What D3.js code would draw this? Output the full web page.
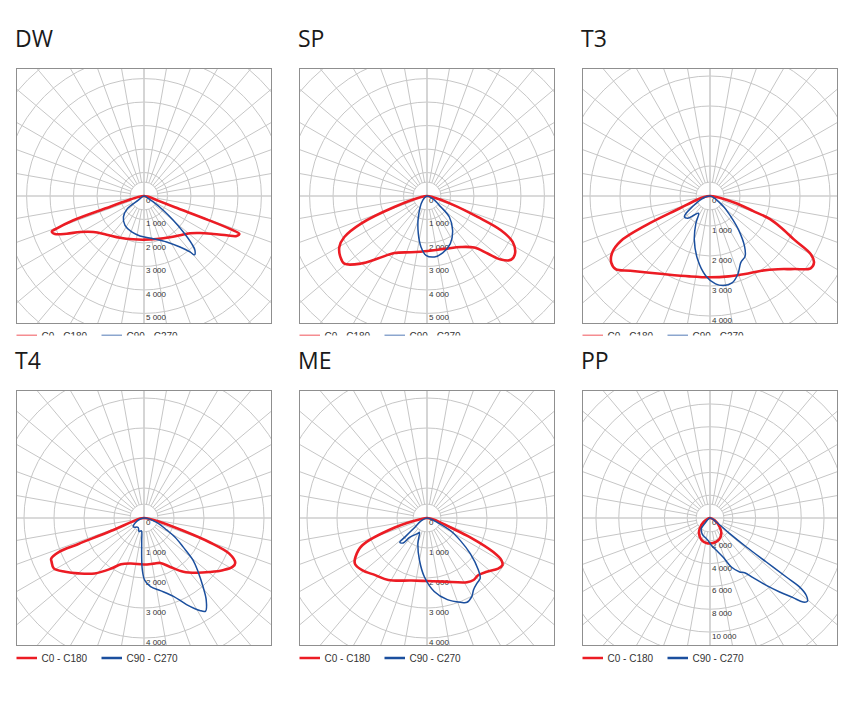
<!DOCTYPE html>
<html><head><meta charset="utf-8">
<script src="https://cdn.jsdelivr.net/npm/d3@7"></script>
<style>body{margin:0;background:#fff}svg{display:block}</style>
</head><body><svg id="c" width="862" height="722"></svg>
<script>
// ---------- data ----------
const titles = ["DW", "SP", "T3", "T4", "ME", "PP"];
const seriesNames = ["C0 - C180", "C90 - C270"];
const radialMax = [5430, 5430, 4250, 4250, 4250, 11180]; // cd at frame half-width
const tickStep = [1000, 1000, 1000, 1000, 1000, 2000];
const tickCount = [6, 6, 5, 5, 5, 6];

// [angle from nadir (deg, + = right), intensity cd], in path order
const dwC0C180 = [[0,0],[-80,250],[-75,700],[-72.2,1670],[-71,3180],[-69.5,4000],[-68.9,4210],[-66.9,4120],[-64,3660],[-60.6,3125],[-54.6,2645],[-44,2290],[-29.9,2050],[-13.8,1900],[0,1860],[16.4,1910],[32.2,2080],[42.5,2270],[50.9,2520],[56.5,2860],[61.3,3365],[64.6,3895],[66.6,4295],[68.3,4370],[69,4000],[69.5,2900],[70,1400],[72,600],[80,150]];
const dwC90C270 = [[0,0],[-54,300],[-52.8,890],[-44.5,1250],[-32.9,1490],[-18.9,1620],[-5.7,1710],[12.3,1860],[26.2,2180],[35.2,2660],[39.4,3080],[40.6,3300],[43.2,3170],[45,2870],[47.5,2270],[50.3,1620],[53.4,1020],[57.3,470],[62,150]];

const spC0C180 = [[0,0],[-80,250],[-71.4,1470],[-67.3,3045],[-63.6,3930],[-59.8,4320],[-54.9,4510],[-50.7,4550],[-44.3,4020],[-38.2,3390],[-29.8,2800],[-15.9,2490],[0.7,2340],[18.1,2370],[33.7,2610],[42.5,2980],[46.5,3560],[49.3,4150],[52.8,4490],[56.8,4480],[61.8,4140],[65.1,3470],[67.5,2330],[71.1,1230],[80,200]];
const spC90C270 = [[0,0],[-45,260],[-22.4,970],[-13,1645],[-6.7,2185],[-1,2525],[6.9,2615],[15.4,2515],[26.1,2260],[36.8,1820],[46.8,1305],[51.8,760],[64.8,270]];

const t3C0C180 = [[0,0],[-80,200],[-73,490],[-67.8,1100],[-65.5,2320],[-63.2,3340],[-59.9,3770],[-56,3970],[-52.2,3980],[-46.8,3640],[-31,3035],[-14.4,2765],[0,2710],[13.1,2750],[24.2,2850],[34.6,3025],[42.9,3330],[49.1,3720],[54.3,4130],[57.4,4115],[60,3880],[62.6,3160],[66,2600],[69,2130],[70.8,1530],[74.3,930],[79.4,356],[85,100]];
const t3C90C270 = [[0,0],[-70,300],[-51.1,1096],[-45,1050],[-39.6,820],[-33.4,690],[-27.4,1020],[-19.8,1545],[-11.1,2150],[-3.1,2660],[3.6,2935],[8.7,3020],[14.2,2990],[19.7,2760],[24.8,2445],[30.3,2320],[34.5,2030],[40.2,1470],[44.6,1043],[47.1,850],[51.8,584],[56.3,354],[65,150]];

const t4C0C180 = [[0,0],[-80,150],[-68.7,1170],[-68.4,2350],[-68.2,3060],[-66.3,3380],[-64.6,3410],[-60.8,3445],[-55.7,3180],[-49.8,2860],[-41.6,2470],[-33,2010],[-26.4,1720],[-16.1,1580],[0,1550],[12.2,1555],[20,1595],[28.2,1850],[36.2,2220],[43.8,2530],[50.5,2830],[56.5,3150],[61.1,3370],[63.8,3390],[67.3,3080],[69.7,2330],[72,1380],[77.3,450]];
const t4C90C270 = [[0,0],[-60.3,350],[-49.8,460],[-31.8,370],[-20.1,480],[-11.6,435],[-5.8,760],[-3.4,1300],[-1.8,1740],[0.6,2070],[5.5,2295],[12.7,2480],[20.6,2790],[26.2,3215],[31.1,3600],[33.5,3720],[37.3,3420],[40.7,3015],[45.2,2540],[49.3,2160],[53.4,1630],[58.2,1220],[62.1,865],[70.7,460]];

const meC0C180 = [[0,0],[-80,200],[-73.5,1120],[-67,2350],[-61.4,2715],[-57.7,2845],[-51.2,2775],[-42.2,2570],[-32,2435],[-14.1,2150],[0.6,2100],[15,2195],[31.9,2525],[36.9,2585],[42.1,2560],[48,2680],[54.6,2910],[58.1,2965],[60.4,2855],[62.8,2485],[65.9,1580],[68.1,850],[77.2,250]];
const meC90C270 = [[0,0],[-63.4,220],[-52.7,520],[-49.1,985],[-48.3,1215],[-43.8,1150],[-41.9,870],[-30.8,600],[-27.6,545],[-19.5,915],[-10.1,1430],[-2.6,1960],[5.6,2460],[14,2805],[21.6,3020],[25.4,3110],[29.8,3010],[33,2850],[37.4,2740],[41.4,2680],[44.6,2440],[50.5,1870],[55.9,1345],[61.6,895],[66.4,380]];

const ppC0C180 = [[0,0],[-57.7,660],[-44.1,1300],[-35.1,1680],[-21.8,2050],[-8.3,2215],[6.8,2210],[22.6,2060],[35.9,1700],[47.1,1160],[63.4,460]];
const ppC90C270 = [[0,0],[-43.3,680],[-39.1,1210],[-25.1,1580],[-15.7,1730],[-5.1,1970],[2.8,2400],[11.1,2890],[18.4,3610],[23.5,4690],[28.8,5400],[32.4,5680],[35.8,6450],[39.9,7700],[43.3,8910],[46.2,10090],[47.9,10990],[49.4,11240],[51.2,10840],[52.4,9930],[52.3,8460],[52,6270],[51.4,4080],[51.5,2210],[57.7,660]];

const redSeries = [dwC0C180, spC0C180, t3C0C180, t4C0C180, meC0C180, ppC0C180];
const blueSeries = [dwC90C270, spC90C270, t3C90C270, t4C90C270, meC90C270, ppC90C270];

// ---------- drawing ----------
const RED = "#ec1c24", BLUE = "#1b4f9e";
const SIZE = 255, colX = [16.5, 299.5, 582.5], rowY = [68.5, 390.5];
const INNER = 14;
const fmt = d3.formatLocale({decimal: ",", thousands: "\u00a0", grouping: [3], currency: ["", ""]}).format(",d");
const svg = d3.select("#c");
const defs = svg.append("defs");

titles.forEach((title, i) => {
  const col = i % 3, row = Math.floor(i / 3);
  const x0 = colX[col], y0 = rowY[row];
  const cx = x0 + SIZE / 2, cy = y0 + SIZE / 2;
  const r = d3.scaleLinear().domain([0, radialMax[i]]).range([0, SIZE / 2]);

  const g = svg.append("g");
  g.append("text").attr("x", x0 - 1.5).attr("y", y0 - 22)
    .attr("font-family", "'Open Sans', sans-serif").attr("font-size", 23)
    .attr("fill", "#1a1a1a").text(title);

  defs.append("clipPath").attr("id", "clip" + i).append("rect")
    .attr("x", x0).attr("y", y0).attr("width", SIZE).attr("height", SIZE);
  const plot = g.append("g").attr("clip-path", `url(#clip${i})`);
  const pg = plot.append("g").attr("transform", `translate(${cx},${cy})`);

  const gridColor = "#c6c6c6";
  // spokes
  const angles = d3.range(0, 360, 10).filter(a => a % 90 !== 0);
  pg.selectAll("line.spoke").data(angles).join("line")
    .attr("x1", a => INNER * Math.sin(a * Math.PI / 180))
    .attr("y1", a => INNER * Math.cos(a * Math.PI / 180))
    .attr("x2", a => 200 * Math.sin(a * Math.PI / 180))
    .attr("y2", a => 200 * Math.cos(a * Math.PI / 180))
    .attr("stroke", gridColor).attr("stroke-width", 1);
  // circles
  const ringVals = d3.range(tickStep[i], radialMax[i] * 1.45, tickStep[i]);
  pg.selectAll("circle.ring").data(ringVals).join("circle")
    .attr("r", v => r(v)).attr("fill", "none").attr("stroke", gridColor).attr("stroke-width", 1);
  pg.append("circle").attr("r", INNER).attr("fill", "none").attr("stroke", gridColor).attr("stroke-width", 1);
  // main axes
  pg.append("line").attr("x1", -200).attr("x2", 200).attr("y1", 0).attr("y2", 0)
    .attr("stroke", "#cecece").attr("stroke-width", 1.7);
  pg.append("line").attr("y1", -200).attr("y2", 200).attr("x1", 0).attr("x2", 0)
    .attr("stroke", "#cecece").attr("stroke-width", 1.7);

  // tick labels
  const ticks = d3.range(tickCount[i]).map(k => k * tickStep[i]);
  pg.selectAll("text.tick").data(ticks).join("text")
    .attr("x", 2).attr("y", v => r(v) + 7)
    .attr("font-family", "'Liberation Sans', Arial, sans-serif").attr("font-size", 8)
    .attr("fill", "#333").text(v => fmt(v));

  // curves
  const line = d3.lineRadial()
    .angle(d => Math.PI - d[0] * Math.PI / 180)
    .radius(d => r(d[1]))
    .curve(d3.curveCatmullRomClosed.alpha(0.5));
  pg.append("path").attr("d", line(redSeries[i])).attr("fill", "none")
    .attr("stroke", RED).attr("stroke-width", 2.6).attr("stroke-linejoin", "round");
  pg.append("path").attr("d", line(blueSeries[i])).attr("fill", "none")
    .attr("stroke", BLUE).attr("stroke-width", 1.5).attr("stroke-linejoin", "round");

  // frame
  g.append("rect").attr("x", x0).attr("y", y0).attr("width", SIZE).attr("height", SIZE)
    .attr("fill", "none").attr("stroke", "#8f8f8f").attr("stroke-width", 1);

  // legend
  const ly = y0 + SIZE + 12.5;
  let lg = g.append("g");
  if (row === 0) {
    defs.append("clipPath").attr("id", "lclip" + i).append("rect")
      .attr("x", x0 - 5).attr("y", 0).attr("width", SIZE + 10).attr("height", y0 + SIZE + 12);
    lg.attr("clip-path", `url(#lclip${i})`);
  }
  const items = [{name: seriesNames[0], color: RED, x: 0}, {name: seriesNames[1], color: BLUE, x: 85}];
  items.forEach(it => {
    lg.append("line").attr("x1", x0 + it.x).attr("x2", x0 + it.x + 20.5).attr("y1", ly).attr("y2", ly)
      .attr("stroke", it.color).attr("stroke-width", 2.5);
    lg.append("text").attr("x", x0 + it.x + 25).attr("y", ly + 3.6)
      .attr("font-family", "'Liberation Sans', Arial, sans-serif").attr("font-size", 10)
      .attr("fill", "#333").text(it.name);
  });
});
</script>
</body></html>
